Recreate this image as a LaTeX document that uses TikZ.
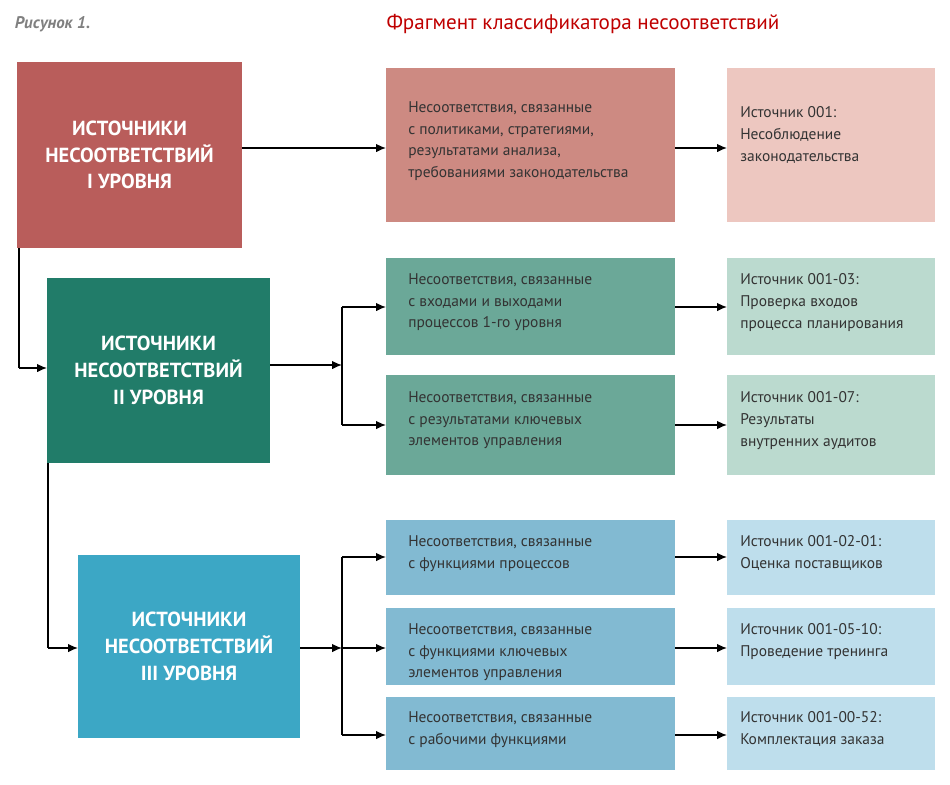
\documentclass[tikz,border=0pt]{standalone}
\usepackage{fontspec}
\setmainfont{PT Sans}
\usetikzlibrary{arrows.meta,calc}

\definecolor{redA}{HTML}{B95D5B}
\definecolor{redB}{HTML}{CD8A82}
\definecolor{redC}{HTML}{EDC7C0}
\definecolor{grnA}{HTML}{217C69}
\definecolor{grnB}{HTML}{6BA898}
\definecolor{grnC}{HTML}{BBDACF}
\definecolor{bluA}{HTML}{3CA7C5}
\definecolor{bluB}{HTML}{82BAD2}
\definecolor{bluC}{HTML}{BEDEEC}
\definecolor{txt}{HTML}{333333}

\tikzset{
  px/.style={x=0.025cm,y=-0.025cm},
  lvl/.style={inner sep=0pt,text=white,font=\fontsize{14.5}{19}\selectfont\bfseries,align=center},
  item/.style={inner sep=0pt,text=txt,font=\fontsize{11}{15.6}\selectfont,align=left,anchor=north west},
  link/.style={line width=1pt,-{Latex[length=7pt,width=6pt]}},
  wire/.style={line width=1pt}
}

\begin{document}
\begin{tikzpicture}[px]
        % Paso 1: fondo y títulos
        \useasboundingbox (0,0) rectangle (950,785);
        \node[anchor=west,text=gray,font=\itshape\bfseries\fontsize{12}{14}\selectfont] (fig) at (10,24) {Рисунок 1.};
        \node[text=red!75!black,font=\fontsize{15}{18}\selectfont] (title) at (583,24) {Фрагмент классификатора несоответствий};

        % Paso 2: fuentes de los tres niveles
        \fill[redA] (17,62) rectangle (242,248);
        \node[lvl] (L1) at (129.5,155) {ИСТОЧНИКИ\\НЕСООТВЕТСТВИЙ\\I УРОВНЯ};
        \fill[grnA] (47,278) rectangle (270,463);
        \node[lvl] (L2) at (158.5,370.5) {ИСТОЧНИКИ\\НЕСООТВЕТСТВИЙ\\II УРОВНЯ};
        \fill[bluA] (78,555) rectangle (300,738);
        \node[lvl] (L3) at (189,646.5) {ИСТОЧНИКИ\\НЕСООТВЕТСТВИЙ\\III УРОВНЯ};

        % Paso 3: columna central
        \fill[redB] (386,68) rectangle (675,222);
        \node[item] (M1) at (408,101) {Несоответствия, связанные\\с политиками, стратегиями,\\результатами анализа,\\требованиями законодательства};
        \fill[grnB] (386,258) rectangle (675,355);
        \node[item] (M2a) at (408,273) {Несоответствия, связанные\\с входами и выходами\\процессов 1-го уровня};
        \fill[grnB] (386,375) rectangle (675,475);
        \node[item] (M2b) at (408,391) {Несоответствия, связанные\\с результатами ключевых\\элементов управления};
        \fill[bluB] (386,520) rectangle (675,595);
        \node[item] (M3a) at (408,535) {Несоответствия, связанные\\с функциями процессов};
        \fill[bluB] (386,608) rectangle (675,685);
        \node[item] (M3b) at (408,623) {Несоответствия, связанные\\с функциями ключевых\\элементов управления};
        \fill[bluB] (386,697) rectangle (675,770);
        \node[item] (M3c) at (408,711) {Несоответствия, связанные\\с рабочими функциями};

        % Paso 4: columna derecha
        \fill[redC] (727,68) rectangle (935,222);
        \node[item] (R1) at (740,106) {Источник 001:\\Несоблюдение\\законодательства};
        \fill[grnC] (727,258) rectangle (935,355);
        \node[item] (R2a) at (740,273) {Источник 001-03:\\Проверка входов\\процесса планирования};
        \fill[grnC] (727,375) rectangle (935,475);
        \node[item] (R2b) at (740,391) {Источник 001-07:\\Результаты\\внутренних аудитов};
        \fill[bluC] (727,520) rectangle (935,595);
        \node[item] (R3a) at (740,535) {Источник 001-02-01:\\Оценка поставщиков};
        \fill[bluC] (727,608) rectangle (935,685);
        \node[item] (R3b) at (740,623) {Источник 001-05-10:\\Проведение тренинга};
        \fill[bluC] (727,697) rectangle (935,770);
        \node[item] (R3c) at (740,711) {Источник 001-00-52:\\Комплектация заказа};

        % Paso 5: conexiones
        \coordinate (j1) at (19,248);
        \coordinate (j2) at (48,463);
        \coordinate (b2) at (342,365);
        \coordinate (b3) at (342,648);
        \draw[wire] (j1) |- (19,368) coordinate (k1);
        \draw[link] (k1) -- (47,368);
        \draw[wire] (j2) |- (48,648) coordinate (k2);
        \draw[link] (k2) -- (78,648);
        \draw[link] (242,148) -- (386,148);
        \draw[link] (675,148) -- (727,148);
        \draw[link] (270,365) -- (b2);
        \draw[wire] (342,307) -- (342,425);
        \draw[link] (342,307) -- (386,307);
        \draw[link] (342,425) -- (386,425);
        \draw[link] (300,648) -- (b3);
        \draw[wire] (342,557) -- (342,735);
        \foreach \y in {557,648,735}
          \draw[link] (342,\y) -- (386,\y);
        \foreach \y in {307,425,557,648,735}
          \draw[link] (675,\y) -- (727,\y);
\end{tikzpicture}
\end{document}
